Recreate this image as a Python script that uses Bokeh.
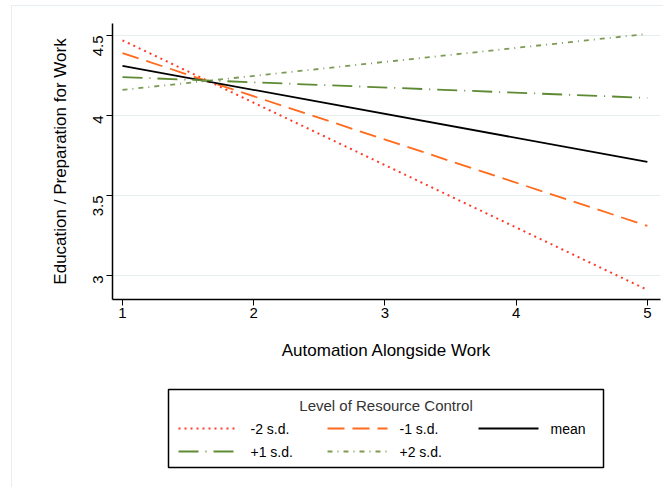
import math
from bokeh.plotting import figure
from bokeh.layouts import column
from bokeh.models import Range1d, FixedTicker
from bokeh.core.properties import value
from bokeh.embed import file_html
from bokeh.resources import INLINE

# Predicted Education / Preparation for Work at each level of resource control
automation = [1, 5]
series_names = ["-2 s.d.", "-1 s.d.", "mean", "+1 s.d.", "+2 s.d."]
minus2_sd = [4.47, 2.91]
minus1_sd = [4.39, 3.31]
mean_rc = [4.31, 3.71]
plus1_sd = [4.24, 4.11]
plus2_sd = [4.16, 4.51]

x_ticks = [1, 2, 3, 4, 5]
y_ticks = [3, 3.5, 4, 4.5]

FONT = "Liberation Sans"

styles = {
    "-2 s.d.": dict(line_color="#ff3b2c", line_width=2, line_dash="2 4"),
    "-1 s.d.": dict(line_color="#ff6a1c", line_width=1.8, line_dash="17 8"),
    "mean": dict(line_color="black", line_width=1.8),
    "+1 s.d.": dict(line_color="#5e8a34", line_width=1.8, line_dash="20 7 1 7"),
    "+2 s.d.": dict(line_color="#7b9b55", line_width=1.8, line_dash="5 5 1 5"),
}
values = dict(zip(series_names, [minus2_sd, minus1_sd, mean_rc, plus1_sd, plus2_sd]))

W = 651
LEFT, RIGHT = 100, 3
p = figure(width=W, height=364, output_backend="svg", toolbar_location=None,
           x_range=Range1d(0.924, 5.1), y_range=Range1d(2.85, 4.575),
           min_border_left=LEFT, min_border_right=RIGHT, min_border_top=17,
           min_border_bottom=71, background_fill_color="white",
           border_fill_color="white")
p.outline_line_color = None
p.xgrid.grid_line_color = None
p.ygrid.grid_line_color = "#e6eef0"

p.xaxis.ticker = FixedTicker(ticks=x_ticks)
p.yaxis.ticker = FixedTicker(ticks=y_ticks)
p.yaxis.major_label_orientation = math.pi / 2

for ax in (p.xaxis[0], p.yaxis[0]):
    ax.axis_line_color = "black"
    ax.axis_line_width = 1.5
    ax.major_tick_line_color = "black"
    ax.major_tick_out = 6
    ax.major_tick_in = 0
    ax.minor_tick_line_color = None
    ax.major_label_text_font = FONT
    ax.major_label_text_font_size = "15px"
    ax.major_label_text_color = "black"
    ax.axis_label_text_font = FONT
    ax.axis_label_text_font_size = "17px"
    ax.axis_label_text_font_style = "normal"
    ax.axis_label_text_color = "black"

p.xaxis.axis_label = "Automation Alongside Work"
p.xaxis.axis_label_standoff = 20
p.yaxis.axis_label = "Education / Preparation for Work"
p.yaxis.axis_label_standoff = 15
p.xaxis.major_label_standoff = 2
p.yaxis.major_label_standoff = 9

for name in series_names:
    p.line(automation, values[name], **styles[name])

# Legend panel: its own figure whose x units are pixels across the layout width
# (the column aligns its frame with the plot frame, so the range covers that span)
leg = figure(width=W, height=117, output_backend="svg", toolbar_location=None,
             x_range=Range1d(LEFT, W - RIGHT), y_range=Range1d(117, 0),
             min_border_left=LEFT, min_border_right=RIGHT,
             min_border_top=0, min_border_bottom=0,
             background_fill_color="white", border_fill_color="white")
leg.axis.visible = False
leg.grid.visible = False
leg.outline_line_color = None

box_l, box_r, box_t, box_b = 156, 591, 19, 97
leg.quad(left=box_l, right=box_r, top=box_t, bottom=box_b,
         fill_color="white", line_color="black", line_width=1.5)
leg.text(x=[(box_l + box_r) / 2], y=[35], text=["Level of Resource Control"],
         text_font=value(FONT), text_font_size="15px", text_color="#333333",
         text_align="center", text_baseline="middle")

col_x = [166, 315, 466]
row_y = [58, 81]
for i, name in enumerate(series_names):
    gx = col_x[i % 3]
    gy = row_y[i // 3]
    leg.segment(x0=[gx], y0=[gy], x1=[gx + 60], y1=[gy], **styles[name])
    leg.text(x=[gx + 72], y=[gy], text=[name], text_font=value(FONT),
             text_font_size="14px", text_color="black",
             text_align="left", text_baseline="middle")

layout = column(p, leg, spacing=0, margin=(5, 0, 0, 11),
                styles={"border-top": "1px solid #e6eef1",
                        "border-left": "1px solid #e6eef1"})

open("out.html", "w").write(file_html(layout, INLINE))
